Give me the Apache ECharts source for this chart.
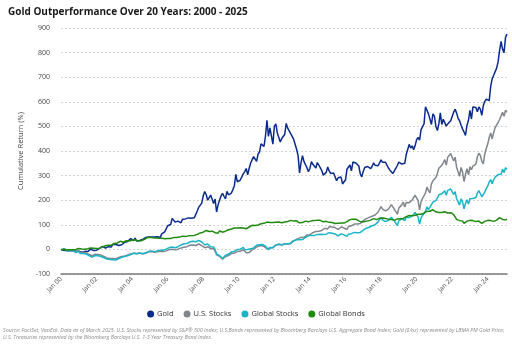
<!DOCTYPE html>
<html><head><meta charset="utf-8">
<script src="https://cdn.jsdelivr.net/npm/echarts@6/dist/echarts.min.js"></script>
<style>html,body{margin:0;padding:0;background:#fff}#c{width:512px;height:347px}</style>
</head><body><div id="c"></div>
<script>
// Monthly observations Jan 2000 - Feb 2025, cumulative return (%)
const gold = [
-2,1,-4,-5,-6,-1,-5,-4,-6,-9,-7,-6,
-9,-8,-11,-9,-8,-7,-9,-6,1,-4,-5,-4,
-3,2,4,6,12,10,5,8,11,9,10,20,
27,20,15,16,24,19,22,29,34,32,37,44,
38,36,46,34,36,36,35,40,43,48,56,50,
46,50,47,50,44,51,48,49,63,62,71,77,
96,92,101,126,125,111,118,115,107,108,123,118,
124,129,128,133,127,124,129,132,156,172,170,188,
218,235,222,200,205,221,217,187,205,152,181,200,
217,228,216,205,236,222,229,229,243,259,305,275,
272,282,284,307,316,329,303,330,351,364,377,384,
358,387,396,429,430,419,461,525,459,494,502,428,
501,510,473,469,437,451,459,468,512,493,495,471,
474,448,451,407,381,311,353,381,357,357,332,316,
329,357,346,344,331,353,343,343,320,302,308,313,
335,319,309,307,311,304,279,291,284,294,266,266,
283,326,327,343,319,355,363,351,356,339,306,295,
318,333,329,337,337,328,338,352,342,338,340,347,
364,354,357,354,349,331,322,314,309,319,320,341,
355,353,347,342,350,386,392,427,412,421,405,422,
446,455,444,487,492,510,580,579,551,548,508,551,
542,501,483,510,555,508,529,526,501,510,516,523,
519,558,570,554,533,523,505,490,477,463,505,525,
565,530,579,587,577,559,579,570,545,584,602,611,
603,605,663,694,708,703,737,763,809,846,814,800,
862,875];
const usStocks = [
-4,-6,3,0,-2,0,-2,4,-1,-2,-10,-9,
-4,-13,-19,-12,-12,-14,-15,-21,-27,-26,-20,-20,
-19,-21,-18,-23,-24,-29,-35,-35,-42,-37,-33,-37,
-38,-39,-38,-33,-30,-29,-28,-27,-27,-23,-23,-19,
-16,-15,-16,-18,-17,-15,-18,-18,-17,-16,-13,-10,
-11,-9,-11,-12,-10,-10,-7,-8,-7,-9,-5,-6,
-1,-1,0,1,-2,-2,-2,1,3,6,8,9,
13,11,12,17,20,18,14,16,20,22,16,15,
11,7,6,11,12,3,2,3,-7,-22,-28,-28,
-33,-40,-35,-29,-25,-25,-19,-17,-14,-15,-10,-9,
-11,-8,-3,-1,-9,-14,-8,-13,-5,-1,-2,5,
9,13,13,16,14,12,10,3,-4,6,6,7,
14,18,22,21,13,18,19,22,25,22,23,23,
32,34,38,41,44,42,49,44,48,55,59,63,
60,67,68,69,73,76,74,80,77,81,86,85,
83,93,90,91,93,89,93,81,76,91,91,87,
81,81,93,93,96,96,103,103,103,99,105,109,
117,125,125,127,130,131,135,136,140,145,152,155,
174,164,156,157,163,164,173,182,183,163,168,143,
168,176,181,192,172,191,195,190,195,201,211,220,
226,198,161,194,207,213,230,253,239,230,266,279,
282,292,309,330,332,342,352,365,343,374,370,390,
374,359,375,333,333,297,333,315,276,306,328,303,
336,324,339,346,347,376,391,382,358,348,388,410,
428,455,473,449,475,495,502,516,528,522,557,541,
566,557];
const globalStocks = [
-4,-7,2,-1,-4,-2,-4,1,-4,-5,-13,-13,
-8,-17,-23,-17,-17,-19,-20,-25,-32,-31,-26,-25,
-25,-26,-24,-29,-29,-34,-39,-39,-46,-41,-38,-42,
-42,-43,-42,-37,-33,-32,-31,-29,-30,-26,-25,-21,
-18,-16,-17,-18,-17,-15,-18,-18,-16,-15,-11,-8,
-8,-6,-8,-9,-6,-6,-2,-3,-2,-3,1,1,
6,7,8,10,7,7,8,11,14,18,21,23,
27,24,25,31,35,33,29,31,35,37,31,30,
24,19,17,22,23,11,9,10,-1,-18,-25,-25,
-29,-37,-31,-24,-20,-20,-13,-10,-6,-8,-2,0,
-2,1,7,8,-1,-6,0,-5,3,7,6,13,
17,20,19,22,20,17,13,6,-2,8,7,7,
14,18,22,21,14,19,20,23,26,23,24,25,
33,34,38,40,42,39,45,40,43,49,52,55,
51,57,57,57,59,61,57,62,59,61,64,62,
60,68,65,66,67,63,66,55,51,63,62,59,
54,53,62,62,64,64,69,68,68,64,69,72,
78,85,86,88,90,92,96,96,100,105,112,114,
130,120,114,113,117,118,125,131,131,115,118,97,
116,122,125,133,117,132,134,129,132,136,143,150,
154,132,103,128,138,142,155,173,162,155,182,192,
192,198,208,222,221,226,231,238,220,240,234,246,
234,224,235,206,206,180,206,193,165,187,202,184,
206,198,207,211,211,229,239,232,214,207,233,247,
258,274,284,267,283,294,297,304,311,305,326,313,
332,325];
const globalBonds = [
0,-1,0,-2,-2,0,-1,-1,-1,-2,0,3,
4,4,2,1,1,1,3,6,6,6,5,5,
4,5,4,7,10,14,15,16,17,17,17,22,
24,26,26,28,33,32,29,29,35,33,34,37,
37,38,39,33,34,35,35,38,40,43,47,50,
49,49,47,49,46,45,45,47,45,44,43,43,
44,45,44,47,48,47,48,50,50,51,54,53,
52,55,55,57,56,55,57,58,61,63,67,67,
70,73,77,75,73,73,74,70,68,62,66,75,
72,70,73,74,80,80,82,83,86,87,90,87,
88,88,87,87,83,84,89,91,96,98,93,97,
98,99,99,104,105,106,109,111,107,109,107,109,
110,110,108,111,107,108,111,111,113,113,114,118,
116,115,113,116,111,108,110,109,113,115,113,112,
114,116,116,117,118,119,117,118,113,112,112,114,
113,110,107,109,106,105,106,106,107,107,104,107,
110,113,118,121,117,123,124,123,124,116,109,111,
112,113,114,116,118,119,123,125,123,121,124,127,
130,128,131,126,124,123,123,122,121,118,119,124,
126,125,127,126,128,133,132,138,135,137,134,139,
142,143,138,143,145,147,154,155,154,155,159,161,
157,153,148,150,152,150,155,153,148,148,146,149,
144,141,133,122,122,117,122,115,106,105,115,109,
118,110,117,117,113,111,115,111,106,104,114,121,
118,116,117,113,114,114,119,125,129,121,122,117,
120,123];
const monthNames = ['Jan','Feb','Mar','Apr','May','Jun','Jul','Aug','Sep','Oct','Nov','Dec'];
const categories = [];
for (let y = 2000; y <= 2025; y++) {
  for (let m = 0; m < 12; m++) {
    if (categories.length >= gold.length) break;
    categories.push(monthNames[m] + ' ' + String(y % 100).padStart(2, '0'));
  }
}
const seriesNames = ['Gold', 'U.S. Stocks', 'Global Stocks', 'Global Bonds'];
const colors = ['#0b2b8c', '#80868d', '#19b4c8', '#1e8a0e'];
const yTicks = { min: -100, max: 900, interval: 100 };
const ff = '"Open Sans", "Noto Sans", sans-serif';

const chart = echarts.init(document.getElementById('c'), null, { renderer: 'canvas' });
const mk = (name, data, i) => ({
  name, type: 'line', data, symbol: 'none', showSymbol: false,
  lineStyle: { width: 1.5, color: colors[i] }, itemStyle: { color: colors[i] },
  animation: false
});
chart.setOption({
  animation: false,
  title: {
    text: 'Gold Outperformance Over 20 Years: 2000 - 2025',
    left: 3, top: 2,
    textStyle: { fontFamily: ff, fontSize: 10, fontWeight: 'bold', color: '#1a1a1a' }
  },
  grid: { left: 61, right: 5, top: 28, bottom: 73, containLabel: false },
  legend: {
    data: seriesNames, bottom: 24, left: 'center', icon: 'circle',
    itemWidth: 7, itemHeight: 7, itemGap: 10,
    textStyle: { fontFamily: ff, fontSize: 7.5, color: '#333', padding: [0, 0, 0, -2] }
  },
  xAxis: {
    type: 'category', data: categories, boundaryGap: false,
    axisLine: { onZero: false, lineStyle: { color: '#7a7a7a', width: 1.5 } },
    axisTick: { show: false },
    axisLabel: {
      interval: (idx) => idx % 24 === 0, rotate: 45, margin: 4,
      fontFamily: ff, fontSize: 6.5, color: '#444'
    },
    splitLine: { show: false }
  },
  yAxis: {
    type: 'value', min: yTicks.min, max: yTicks.max, interval: yTicks.interval,
    name: 'Cumulative Return (%)', nameLocation: 'middle', nameGap: 36, nameRotate: 90,
    nameTextStyle: { fontFamily: ff, fontSize: 7.5, color: '#444' },
    axisLine: { show: false }, axisTick: { show: false },
    axisLabel: { fontFamily: ff, fontSize: 7, color: '#444', margin: 11 },
    splitLine: { show: true, lineStyle: { color: '#c8c8c8', type: [2, 2], width: 0.8 } }
  },
  series: [
    mk(seriesNames[0], gold, 0),
    mk(seriesNames[1], usStocks, 1),
    mk(seriesNames[2], globalStocks, 2),
    mk(seriesNames[3], globalBonds, 3)
  ],
  graphic: [
    { type: 'text', left: 3, top: 328, style: {
      text: 'Source: FactSet, VanEck. Data as of March 2025. U.S. Stocks represented by S&P\u00AE 500 Index; U.S.Bonds represented by Bloomberg Barclays U.S. Aggregate Bond Index; Gold ($/oz) represented by LBMA PM Gold Price;',
      font: 'italic 5.3px ' + ff, fill: '#8a8a8a' } },
    { type: 'text', left: 3, top: 335, style: {
      text: 'U.S. Treasuries represented by the Bloomberg Barclays U.S. 1-3 Year Treasury Bond Index.',
      font: 'italic 5.3px ' + ff, fill: '#8a8a8a' } }
  ]
});
</script></body></html>
